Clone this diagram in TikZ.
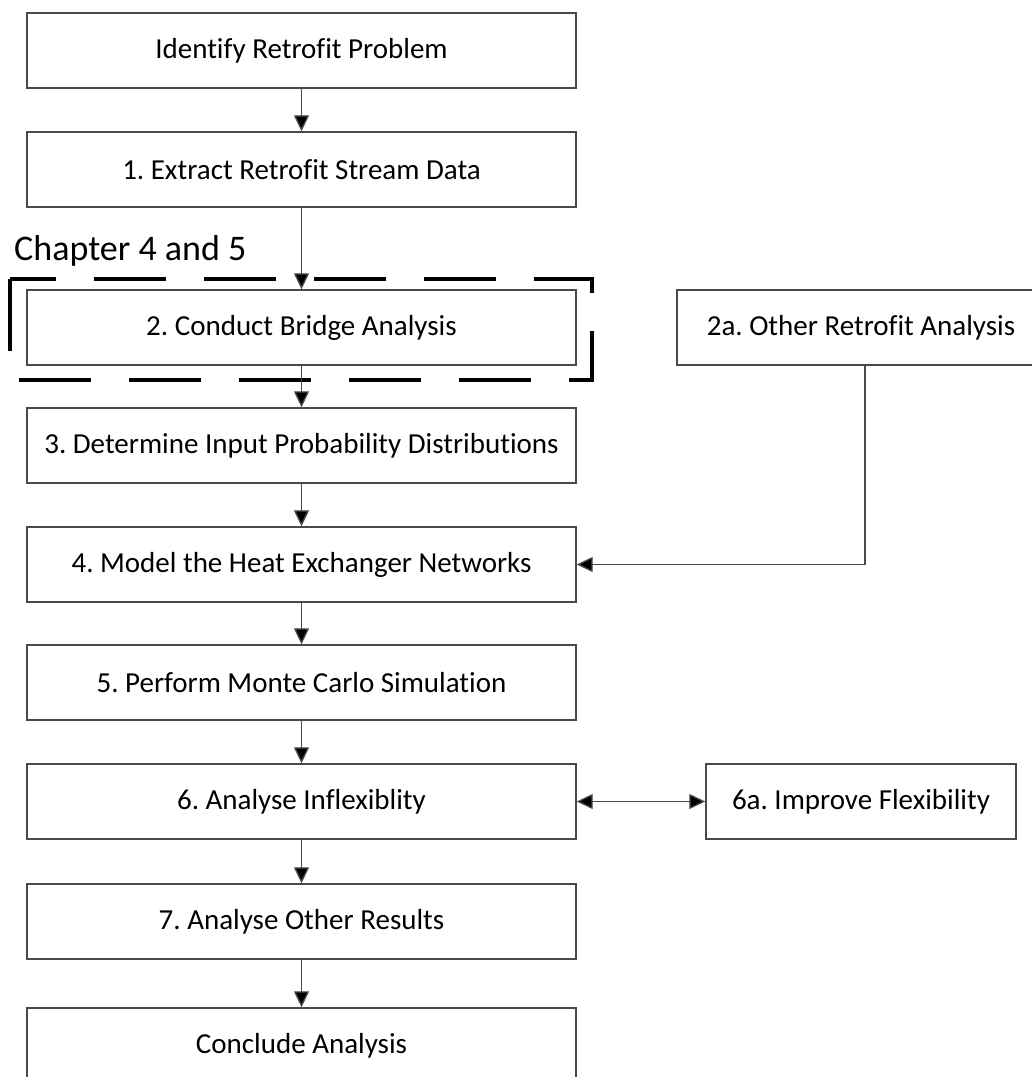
\documentclass[tikz,border=0pt]{standalone}
\usepackage{fontspec}
\setmainfont{Carlito}[Ligatures=NoCommon]
\frenchspacing
\usetikzlibrary{arrows.meta}
\definecolor{edgegray}{HTML}{4A4A4A}
\begin{document}
\begin{tikzpicture}[x=1pt,y=-1pt,
  stepbox/.style={draw=edgegray,line width=1.4pt,fill=white,minimum height=75pt,
    inner sep=0pt,font=\fontsize{29}{34}\selectfont,text=black},
  mainbox/.style={stepbox,minimum width=549pt},
  flow/.style={draw=edgegray,line width=1.3pt,-{Triangle[length=16pt,width=15pt,fill=black]}},
  bothflow/.style={draw=edgegray,line width=1.3pt,{Triangle[length=16pt,width=15pt,fill=black]}-{Triangle[length=16pt,width=15pt,fill=black]}},
  chapterbox/.style={draw=black,line width=4pt,dash pattern=on 72pt off 38pt}]
\useasboundingbox (0,0) rectangle (1032,1077);
\clip (0,0) rectangle (1032,1077);

% main column of steps
\node[mainbox] (s0) at (301.5,50.5)  {Identify Retrofit Problem};
\node[mainbox] (s1) at (301.5,169.5) {1. Extract Retrofit Stream Data};
\node[mainbox] (s2) at (301.5,327.5) {2. Conduct Bridge Analysis};
\node[mainbox] (s3) at (301.5,445.5) {3. Determine Input Probability Distributions};
\node[mainbox] (s4) at (301.5,564.5) {4. Model the Heat Exchanger Networks};
\node[mainbox] (s5) at (301.5,682.5) {5. Perform Monte Carlo Simulation};
\node[mainbox] (s6) at (301.5,801.5) {6. Analyse Inflexiblity};
\node[mainbox] (s7) at (301.5,921.5) {7. Analyse Other Results};
\node[mainbox] (s8) at (301.5,1045.5) {Conclude Analysis};

% side branches
\node[stepbox,minimum width=368pt] (a2) at (861,327.5) {2a. Other Retrofit Analysis};
\node[stepbox,minimum width=310pt] (a6) at (861,801.5) {6a. Improve Flexibility};

% chapter frame around step 2
\draw[chapterbox] (10,279) -- (10,380) -- (592,380) -- (592,279) -- cycle;
\node[font=\fontsize{36}{42}\selectfont,anchor=base west,inner sep=0pt] (chap) at (14,260) {Chapter 4 and 5};

% connectors
\draw[flow] (s0) -- (s1);
\draw[flow] (s1) -- (s2);
\draw[flow] (s2) -- (s3);
\draw[flow] (s3) -- (s4);
\draw[flow] (s4) -- (s5);
\draw[flow] (s5) -- (s6);
\draw[flow] (s6) -- (s7);
\draw[flow] (s7) -- (s8);
\draw[flow] ([xshift=4pt]a2.south) |- (s4.east);
\draw[bothflow] (s6.east) -- (a6.west);
\end{tikzpicture}
\end{document}
